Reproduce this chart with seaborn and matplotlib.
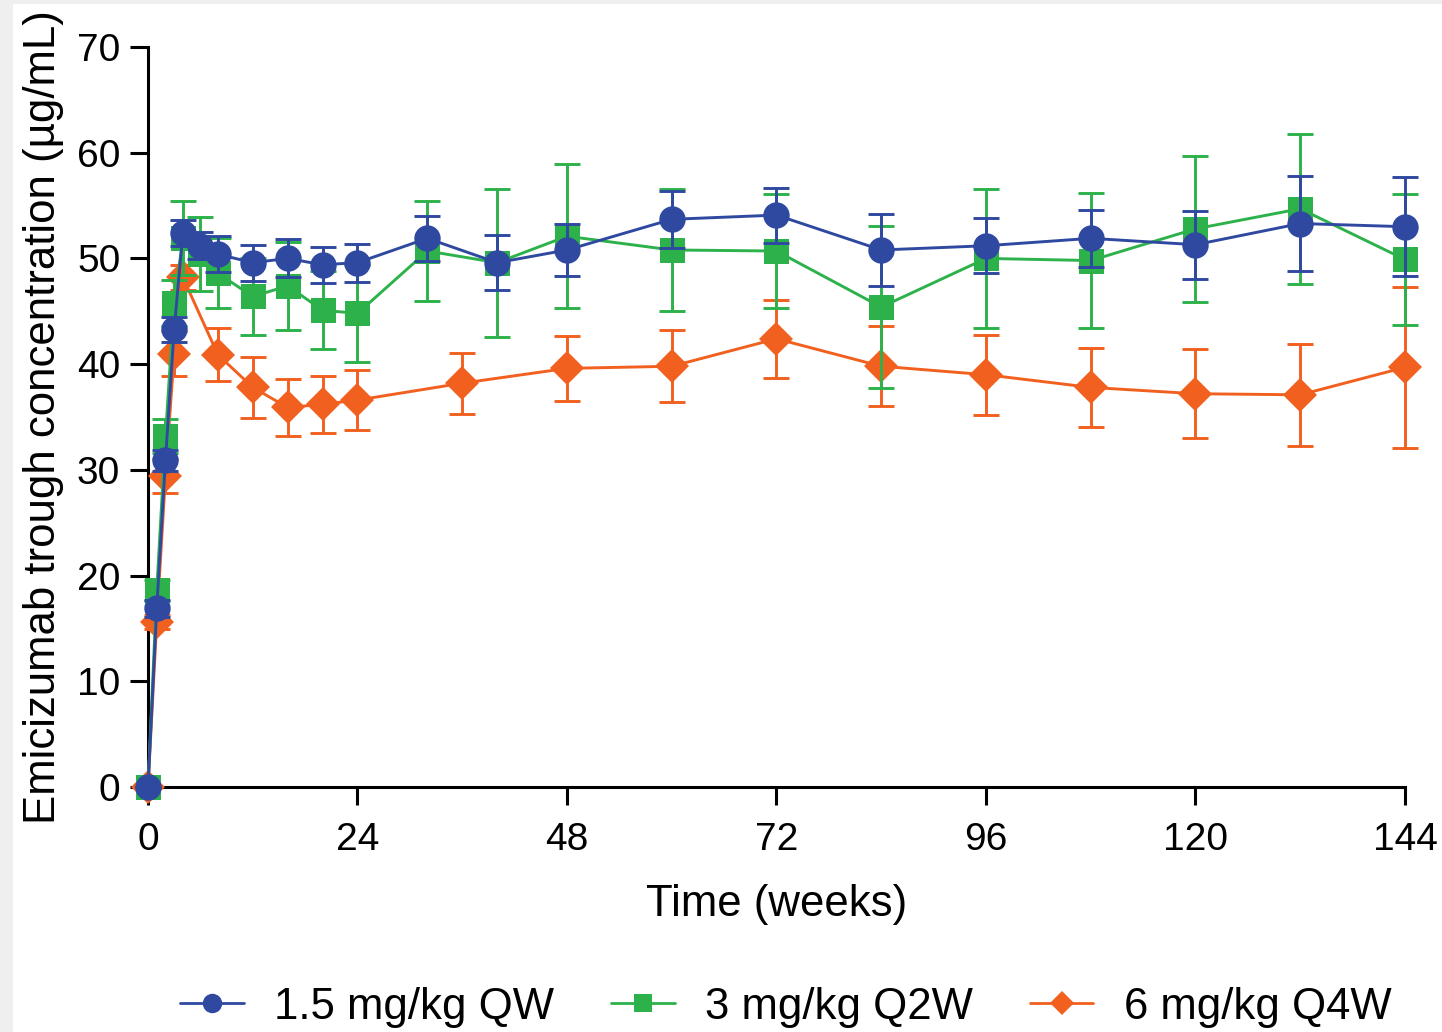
import numpy as np
import pandas as pd
import matplotlib
matplotlib.use("Agg")
import matplotlib.pyplot as plt
from matplotlib.lines import Line2D
from matplotlib.patches import Rectangle
import seaborn as sns

# ---- data ----
weeks_qw = [0, 1, 2, 3, 4, 6, 8, 12, 16, 20, 24, 32, 40, 48, 60, 72, 84, 96, 108, 120, 132, 144]
mean_qw = [0, 16.9, 30.9, 43.3, 52.4, 51.2, 50.4, 49.6, 50.0, 49.4, 49.6, 51.9, 49.6, 50.8,
           53.7, 54.1, 50.8, 51.2, 51.9, 51.3, 53.3, 53.0]
sd_qw = [0, 0.8, 1.0, 1.2, 1.2, 1.3, 1.7, 1.7, 1.8, 1.7, 1.8, 2.1, 2.6, 2.5,
         2.7, 2.6, 3.4, 2.6, 2.7, 3.2, 4.5, 4.7]

weeks_q2w = [0, 1, 2, 3, 4, 6, 8, 12, 16, 20, 24, 32, 40, 48, 60, 72, 84, 96, 108, 120, 132, 144]
mean_q2w = [0, 18.6, 33.2, 45.8, 51.9, 50.4, 48.6, 46.4, 47.4, 45.1, 44.8, 50.7, 49.6, 52.1,
            50.8, 50.7, 45.4, 50.0, 49.8, 52.8, 54.7, 49.9]
sd_q2w = [0, 1.0, 1.6, 2.2, 3.5, 3.5, 3.3, 3.6, 4.2, 3.7, 4.6, 4.7, 7.0, 6.8,
          5.8, 5.4, 7.7, 6.6, 6.4, 6.9, 7.1, 6.2]

weeks_q4w = [0, 1, 2, 3, 4, 8, 12, 16, 20, 24, 36, 48, 60, 72, 84, 96, 108, 120, 132, 144]
mean_q4w = [0, 15.6, 29.4, 41.0, 48.2, 40.9, 37.8, 35.9, 36.2, 36.6, 38.2, 39.6, 39.8, 42.4,
            39.8, 39.0, 37.8, 37.2, 37.1, 39.7]
sd_q4w = [0, 0.7, 1.6, 2.1, 1.2, 2.5, 2.9, 2.7, 2.7, 2.8, 2.9, 3.1, 3.4, 3.7,
          3.8, 3.8, 3.7, 4.2, 4.8, 7.6]

labels = ["1.5 mg/kg QW", "3 mg/kg Q2W", "6 mg/kg Q4W"]
x_ticks = [0, 24, 48, 72, 96, 120, 144]
y_ticks = [0, 10, 20, 30, 40, 50, 60, 70]

# ---- style ----
sns.set_theme(style="ticks")
plt.rcParams["font.family"] = ["Liberation Sans", "DejaVu Sans"]
plt.rcParams["text.color"] = "black"
plt.rcParams["axes.labelcolor"] = "black"
plt.rcParams["xtick.color"] = "black"
plt.rcParams["ytick.color"] = "black"

colors = ["#2F49A0", "#2DB24B", "#F2601F"]
markers = ["o", "s", "D"]
msizes = [19, 18, 17.5]

fig = plt.figure(figsize=(14.42, 10.32), dpi=100, facecolor="#efefef")
bg = Rectangle((13 / 1442, 0), 1, 1 - 4 / 1032, transform=fig.transFigure,
               facecolor="white", edgecolor="none", zorder=-10)
fig.add_artist(bg)
ax = fig.add_axes([148 / 1442, 1 - 787 / 1032, (1405 - 148) / 1442, (787 - 47) / 1032])
ax.set_facecolor("none")
ax.set_zorder(5)

series = [
    (weeks_qw, mean_qw, sd_qw),
    (weeks_q2w, mean_q2w, sd_q2w),
    (weeks_q4w, mean_q4w, sd_q4w),
]

# draw orange first, then green, then blue on top
for idx in [2, 1, 0]:
    w, m, s = series[idx]
    df = pd.DataFrame({"week": w, "conc": m, "sd": s})
    z = 3 + (2 - idx) * 2
    ax.errorbar(df["week"], df["conc"], yerr=df["sd"], fmt="none", ecolor=colors[idx],
                elinewidth=2.1, capsize=9.5, capthick=2.1, zorder=z, clip_on=False)
    sns.lineplot(data=df, x="week", y="conc", ax=ax, color=colors[idx], marker=markers[idx],
                 markersize=msizes[idx], markeredgewidth=0, linewidth=2.1,
                 zorder=z + 1, clip_on=False, legend=False)

ax.set_xlim(0, 144)
ax.set_ylim(0, 70)
ax.set_xticks(x_ticks)
ax.set_yticks(y_ticks)
ax.set_xlabel("Time (weeks)", fontsize=31.5, labelpad=19)
ax.set_ylabel("Emicizumab trough concentration (µg/mL)", fontsize=31.5, labelpad=9)
sns.despine(ax=ax)
for sp in ["left", "bottom"]:
    ax.spines[sp].set_linewidth(2.2)
    ax.spines[sp].set_color("black")
ax.tick_params(axis="both", direction="out", length=13, width=2.2, colors="black",
               labelsize=28)
ax.tick_params(axis="x", pad=12)
ax.tick_params(axis="y", pad=7)

handles = [Line2D([0], [0], color=colors[i], marker=markers[i], markersize=[14, 13, 12][i],
                  markeredgewidth=0, linewidth=2.0) for i in range(3)]
fig.legend(handles, labels, loc="center", bbox_to_anchor=(0.545, 0.024), ncol=3,
           frameon=False, fontsize=31.5, handlelength=1.45, handletextpad=0.7,
           columnspacing=1.3)

fig.savefig("out.png", dpi=100, facecolor=fig.get_facecolor())
